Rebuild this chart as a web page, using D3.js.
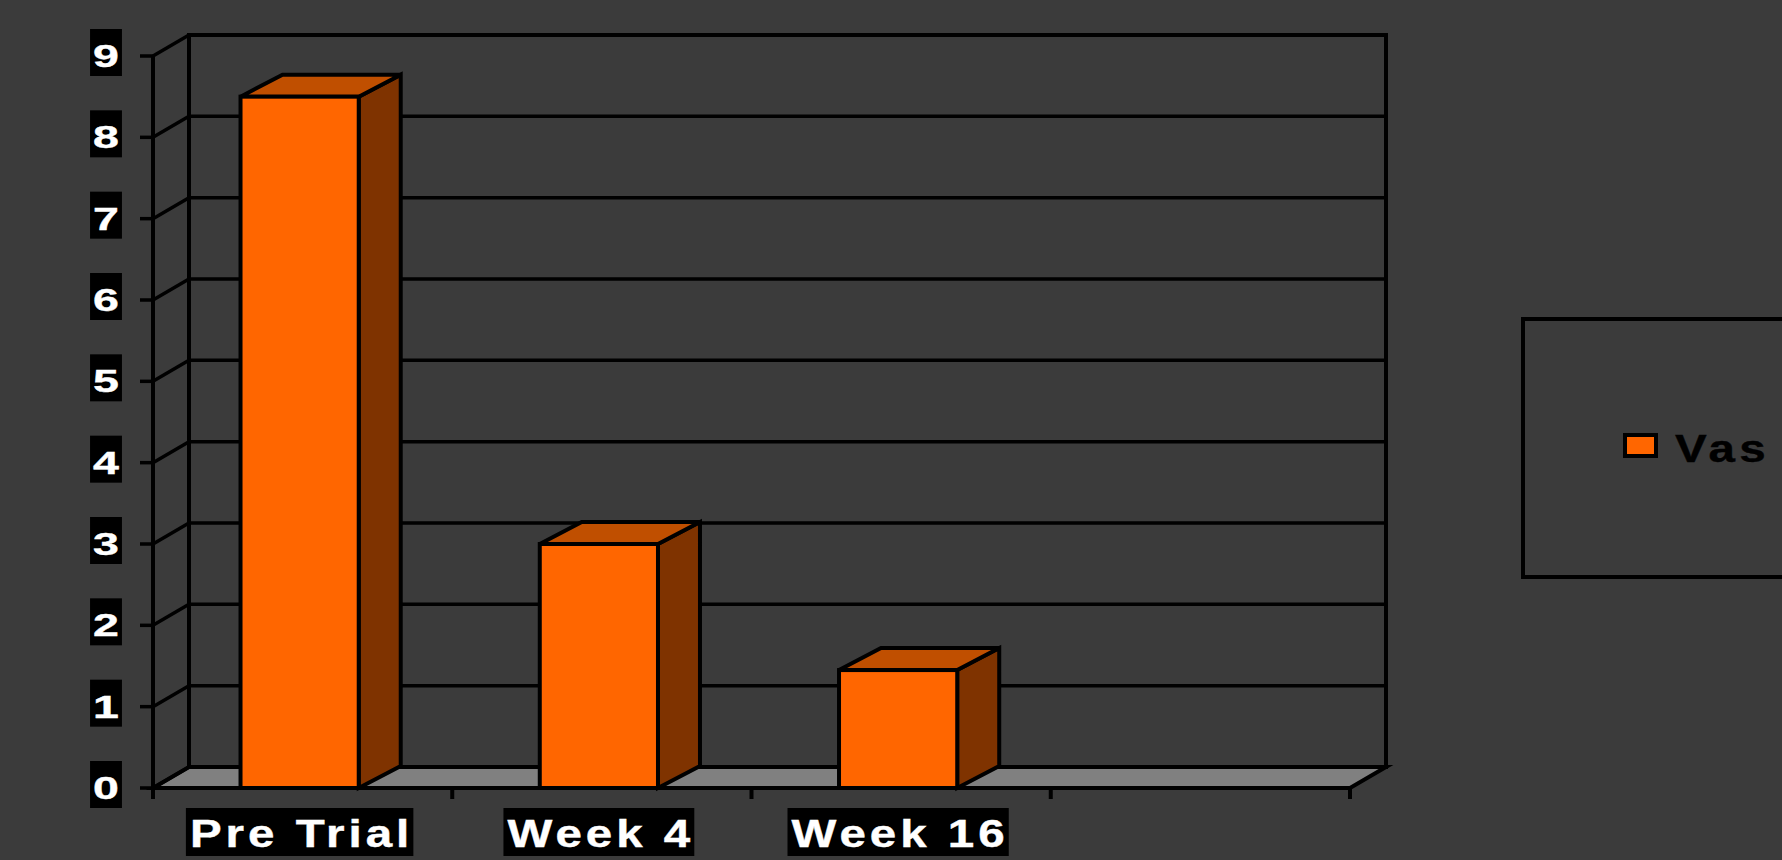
<!DOCTYPE html>
<html>
<head>
<meta charset="utf-8">
<script src="https://cdn.jsdelivr.net/npm/d3@7"></script>
<style>
	html, body { margin: 0; padding: 0; background: #3b3b3b; overflow: hidden; }
	svg { display: block; }
</style>
</head>
<body>
<svg class="chart" width="1782" height="860"></svg>
<script>
// Data
const categories = ["Pre Trial", "Week 4", "Week 16", ""];
const vasValues = [8.5, 3, 1.45];
const seriesName = "Vas";
const yTicks = [0, 1, 2, 3, 4, 5, 6, 7, 8, 9];

////////////////////////////////////////////////////////////
//// Setup /////////////////////////////////////////////////
////////////////////////////////////////////////////////////
const svg = d3.select(".chart");
const frontLeft = 153;
const frontRight = 1350;
const floorY = 788;
const topY = 56;
const wallDx = 36;
const wallDy = -21;
const barDx = 42;
const barDy = -22;
const font = "'Liberation Sans', Arial, sans-serif";

const orange = "#ff6600";
const orangeTop = "#c04f00";
const orangeSide = "#7f3300";

const x = d3.scaleBand().domain(categories).range([frontLeft, frontRight]);
const y = d3.scaleLinear().domain([0, 9]).range([floorY, topY]);
const barWidth = x.bandwidth() * 0.395;

const g = svg.append("g")
	.attr("stroke", "#000")
	.attr("stroke-linejoin", "miter");

////////////////////////////////////////////////////////////
//// Walls & floor /////////////////////////////////////////
////////////////////////////////////////////////////////////
// floor
g.append("path")
	.attr("fill", "#808080")
	.attr("stroke-width", 4)
	.attr("d", `M${frontLeft},${floorY}L${frontRight},${floorY}L${frontRight + wallDx},${floorY + wallDy}L${frontLeft + wallDx},${floorY + wallDy}Z`);

// back wall gridlines
g.append("g")
	.attr("stroke-width", 3.5)
	.selectAll("line")
	.data(yTicks.slice(1, -1))
	.join("line")
	.attr("x1", frontLeft + wallDx)
	.attr("x2", frontRight + wallDx)
	.attr("y1", d => y(d) + wallDy)
	.attr("y2", d => y(d) + wallDy);

// side wall diagonals
g.append("g")
	.attr("stroke-width", 3.5)
	.selectAll("line")
	.data(yTicks)
	.join("line")
	.attr("x1", frontLeft)
	.attr("x2", frontLeft + wallDx)
	.attr("y1", d => y(d))
	.attr("y2", d => y(d) + wallDy);

// back wall outline
g.append("rect")
	.attr("fill", "none")
	.attr("stroke-width", 4)
	.attr("x", frontLeft + wallDx)
	.attr("y", y(9) + wallDy)
	.attr("width", frontRight - frontLeft)
	.attr("height", y(0) - y(9));

// front y axis with left ticks
g.append("line")
	.attr("stroke-width", 4)
	.attr("x1", frontLeft).attr("x2", frontLeft)
	.attr("y1", y(9)).attr("y2", floorY + 11);

g.append("g")
	.attr("stroke-width", 3.5)
	.selectAll("line")
	.data(yTicks)
	.join("line")
	.attr("x1", frontLeft - 13)
	.attr("x2", frontLeft)
	.attr("y1", d => y(d))
	.attr("y2", d => y(d));

// x ticks at band edges
const xEdges = categories.map(c => x(c)).concat([frontRight]);
g.append("g")
	.attr("stroke-width", 4)
	.selectAll("line")
	.data(xEdges)
	.join("line")
	.attr("x1", d => d).attr("x2", d => d)
	.attr("y1", floorY).attr("y2", floorY + 11);

////////////////////////////////////////////////////////////
//// Bars //////////////////////////////////////////////////
////////////////////////////////////////////////////////////
const bars = g.append("g")
	.attr("stroke-width", 4)
	.selectAll("g")
	.data(vasValues)
	.join("g")
	.attr("transform", (d, i) => `translate(${x(categories[i]) + (x.bandwidth() - barWidth) / 2 - 3},0)`);

// side
bars.append("path")
	.attr("fill", orangeSide)
	.attr("d", d => `M${barWidth},${y(d)}L${barWidth + barDx},${y(d) + barDy}L${barWidth + barDx},${floorY + barDy}L${barWidth},${floorY}Z`);

// top
bars.append("path")
	.attr("fill", orangeTop)
	.attr("d", d => `M0,${y(d)}L${barDx},${y(d) + barDy}L${barWidth + barDx},${y(d) + barDy}L${barWidth},${y(d)}Z`);

// front
bars.append("rect")
	.attr("fill", orange)
	.attr("x", 0)
	.attr("y", d => y(d))
	.attr("width", barWidth)
	.attr("height", d => floorY - y(d));

////////////////////////////////////////////////////////////
//// Labels ////////////////////////////////////////////////
////////////////////////////////////////////////////////////
// wide text: horizontal stretch plus extra letter spacing
function wideText(parent, tx, baseline, text, size, sx, spacing, color, anchor) {
	const t = parent.append("text")
		.attr("font-family", font)
		.attr("font-weight", "bold")
		.attr("font-size", size)
		.attr("letter-spacing", spacing)
		.attr("fill", color)
		.attr("stroke", color)
		.attr("stroke-width", 0.4)
		.text(text);
	const len = t.node().getComputedTextLength() - spacing;
	const x0 = anchor === "middle" ? tx - (len * sx) / 2 : tx;
	t.attr("transform", `translate(${x0},${baseline}) scale(${sx},1)`);
	return len * sx;
}

function boxedLabel(parent, cx, baseline, text, size, sx, spacing, boxTop, boxH, padX) {
	const lg = parent.append("g");
	const box = lg.append("rect").attr("fill", "#000");
	const w = wideText(lg, cx, baseline, text, size, sx, spacing, "#fff", "middle") + padX * 2;
	box.attr("x", cx - w / 2).attr("y", boxTop).attr("width", w).attr("height", boxH);
}

const labels = svg.append("g");

yTicks.forEach(d => {
	boxedLabel(labels, 106, y(d) + 11, d, 31, 1.5, 0, y(d) - 27, 47, 3);
});

categories.forEach((c, i) => {
	if (!c) return;
	const cx = x(c) + x.bandwidth() / 2 - 3;
	boxedLabel(labels, cx, 847, c, 38, 1.25, 3.2, 808, 48, 4);
});

////////////////////////////////////////////////////////////
//// Legend ////////////////////////////////////////////////
////////////////////////////////////////////////////////////
const legend = svg.append("g");
legend.append("rect")
	.attr("x", 1523)
	.attr("y", 319)
	.attr("width", 320)
	.attr("height", 258)
	.attr("fill", "none")
	.attr("stroke", "#000")
	.attr("stroke-width", 4);

legend.append("rect")
	.attr("x", 1625)
	.attr("y", 435)
	.attr("width", 31)
	.attr("height", 21)
	.attr("fill", orange)
	.attr("stroke", "#000")
	.attr("stroke-width", 4);

wideText(legend, 1675, 462, seriesName, 38, 1.25, 3.5, "#000", "start");
</script>
</body>
</html>
